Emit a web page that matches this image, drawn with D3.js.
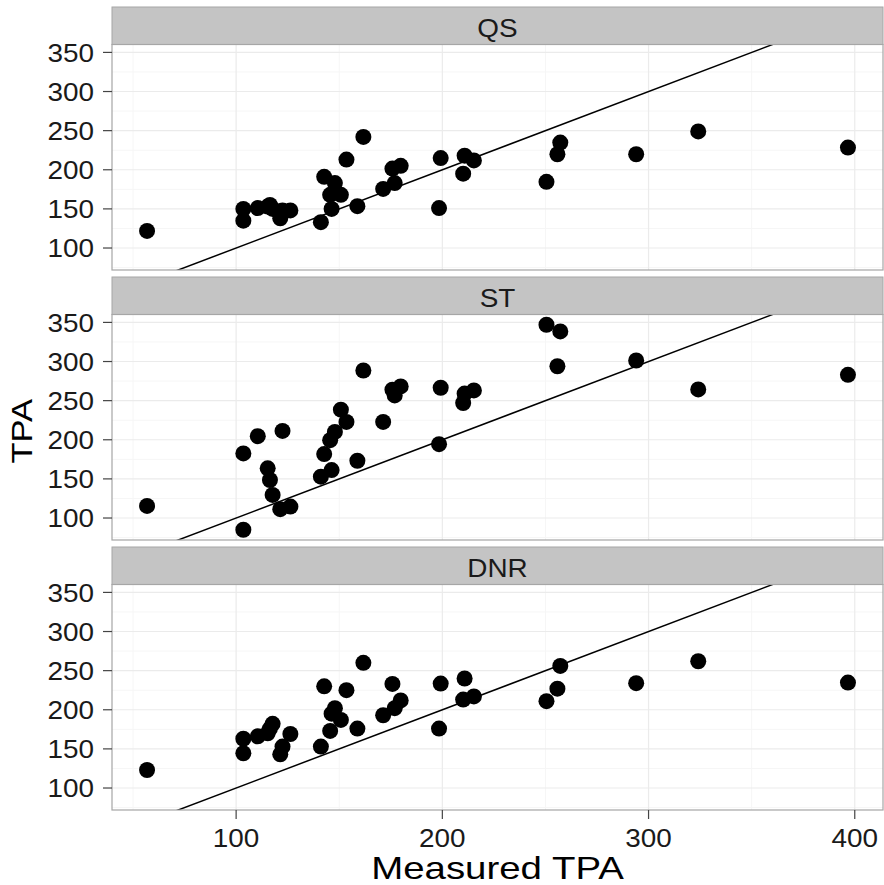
<!DOCTYPE html>
<html>
<head>
<meta charset="utf-8">
<script src="https://cdn.jsdelivr.net/npm/d3@7"></script>
<style>
  html, body { margin: 0; padding: 0; background: #fff; }
  svg { display: block; font-family: "Liberation Sans", Arial, Helvetica, sans-serif; }
</style>
</head>
<body>
<svg id="chart" width="884" height="885"></svg>
<script>
// ---- data ----
const facets = ["QS", "ST", "DNR"];
const measured = [56.8, 103.5, 103.5, 110.5, 115.3, 116.4, 117.7, 121.4, 122.5, 126.3,
  141.1, 142.7, 145.6, 146.3, 147.9, 150.8, 153.5, 158.8, 161.7, 171.3,
  175.8, 176.9, 179.8, 198.4, 199.2, 210.1, 210.8, 215.3, 250.5, 255.8,
  257.2, 294, 324.1, 396.7];
const qsTPA = [121.9, 150, 135, 151, 153, 155, 150, 138, 148, 148,
  133, 191, 168, 150, 183, 168, 213, 153.5, 242, 175.5,
  201.5, 183, 205, 151, 215, 195, 218, 212, 184.6, 219.8,
  234.7, 219.8, 249, 228.4];
const stTPA = [115.5, 182.6, 85, 204.6, 163.5, 148.6, 129.5, 111.3, 211.3, 114.6,
  152.8, 181.7, 199.5, 161.3, 210, 238.5, 222.8, 173.2, 288.5, 222.8,
  264, 256.7, 268.2, 194.4, 266.5, 247, 259, 263.1, 347, 294,
  338.5, 301.3, 264.4, 283];
const dnrTPA = [123, 163, 144.4, 166, 170, 176, 182, 143, 153, 169,
  153, 230, 173, 195, 202, 187, 225, 176, 260, 193,
  233, 202, 212, 176, 233.5, 213, 240, 217, 211, 227,
  256, 234, 262, 234.7];
const xTicks = [100, 200, 300, 400];
const xMinor = [50, 150, 250, 350];
const yTicks = [100, 150, 200, 250, 300, 350];
const yMinor = [75, 125, 175, 225, 275, 325];
const xTitle = "Measured TPA";
const yTitle = "TPA";

const seriesByFacet = { QS: qsTPA, ST: stTPA, DNR: dnrTPA };

// ---- layout ----
const panelLeft = 112, panelRight = 883;
const topMargin = 7, stripH = 37.5, panelH = 225.5, gap = 7;
const panelW = panelRight - panelLeft;

const svg = d3.select("#chart");

function expand(ext, f) {
  const d = ext[1] - ext[0];
  return [ext[0] - d * f, ext[1] + d * f];
}
const allY = qsTPA.concat(stTPA, dnrTPA);
const x = d3.scaleLinear().domain(expand(d3.extent(measured), 0.05)).range([0, panelW]);
const y = d3.scaleLinear().domain(expand(d3.extent(allY), 0.05)).range([panelH, 0]);

function stretch(sel, factor) {
  sel.each(function () {
    const len = this.getComputedTextLength();
    d3.select(this).attr("textLength", len * factor).attr("lengthAdjust", "spacingAndGlyphs");
  });
}

const borderCol = "#a6a6a6";

facets.forEach((name, i) => {
  const stripTop = topMargin + i * (stripH + panelH + gap);
  const panelTop = stripTop + stripH;
  const vals = seriesByFacet[name];
  const pts = measured.map((m, k) => ({ x: m, y: vals[k] }));

  // strip
  svg.append("rect")
    .attr("x", panelLeft).attr("y", stripTop)
    .attr("width", panelW).attr("height", stripH)
    .attr("fill", "#c4c4c4").attr("stroke", borderCol).attr("stroke-width", 1);
  const st = svg.append("text")
    .attr("x", panelLeft + panelW / 2).attr("y", stripTop + 29.5)
    .attr("text-anchor", "middle").attr("font-size", 25.6).attr("fill", "#1a1a1a")
    .text(name);
  stretch(st, 1.09);

  const g = svg.append("g").attr("transform", `translate(${panelLeft},${panelTop})`);
  const clipId = "clip" + i;
  g.append("clipPath").attr("id", clipId)
    .append("rect").attr("width", panelW).attr("height", panelH);

  g.append("rect").attr("width", panelW).attr("height", panelH).attr("fill", "#fff");

  // minor grid
  g.selectAll(".xmin").data(xMinor).join("line")
    .attr("x1", d => x(d)).attr("x2", d => x(d)).attr("y1", 0).attr("y2", panelH)
    .attr("stroke", "#f6f6f6").attr("stroke-width", 1);
  g.selectAll(".ymin").data(yMinor).join("line")
    .attr("y1", d => y(d)).attr("y2", d => y(d)).attr("x1", 0).attr("x2", panelW)
    .attr("stroke", "#f6f6f6").attr("stroke-width", 1);
  // major grid
  g.selectAll(".xmaj").data(xTicks).join("line")
    .attr("x1", d => x(d)).attr("x2", d => x(d)).attr("y1", 0).attr("y2", panelH)
    .attr("stroke", "#ebebeb").attr("stroke-width", 1.2);
  g.selectAll(".ymaj").data(yTicks).join("line")
    .attr("y1", d => y(d)).attr("y2", d => y(d)).attr("x1", 0).attr("x2", panelW)
    .attr("stroke", "#ebebeb").attr("stroke-width", 1.2);

  // identity line y = x
  const dx = x.domain(), dy = y.domain();
  const lo = Math.min(dx[0], dy[0]), hi = Math.max(dx[1], dy[1]);
  g.append("line")
    .attr("clip-path", `url(#${clipId})`)
    .attr("x1", x(lo)).attr("y1", y(lo)).attr("x2", x(hi)).attr("y2", y(hi))
    .attr("stroke", "#000").attr("stroke-width", 1.5);

  // points
  g.append("g").selectAll("circle").data(pts).join("circle")
    .attr("cx", d => x(d.x)).attr("cy", d => y(d.y)).attr("r", 8)
    .attr("fill", "#000");

  // border
  g.append("rect").attr("width", panelW).attr("height", panelH)
    .attr("fill", "none").attr("stroke", borderCol).attr("stroke-width", 1.2);

  // y axis ticks + labels
  g.selectAll(".yt").data(yTicks).join("line")
    .attr("x1", -9).attr("x2", 0).attr("y1", d => y(d)).attr("y2", d => y(d))
    .attr("stroke", "#444").attr("stroke-width", 1.2);
  const yl = g.selectAll(".yl").data(yTicks).join("text")
    .attr("x", -18).attr("y", d => y(d) + 9.2)
    .attr("text-anchor", "end").attr("font-size", 25.6).attr("fill", "#1a1a1a")
    .text(d => d);
  stretch(yl, 1.09);

  if (i === facets.length - 1) {
    g.selectAll(".xt").data(xTicks).join("line")
      .attr("x1", d => x(d)).attr("x2", d => x(d)).attr("y1", panelH).attr("y2", panelH + 9)
      .attr("stroke", "#444").attr("stroke-width", 1.2);
    const xl = g.selectAll(".xl").data(xTicks).join("text")
      .attr("x", d => x(d)).attr("y", panelH + 36.5)
      .attr("text-anchor", "middle").attr("font-size", 25.6).attr("fill", "#1a1a1a")
      .text(d => d);
    stretch(xl, 1.09);
  }
});

// axis titles
const xt = svg.append("text")
  .attr("x", panelLeft + panelW / 2).attr("y", 878.5)
  .attr("text-anchor", "middle").attr("font-size", 32).attr("fill", "#000")
  .text(xTitle);
stretch(xt, 1.2);

const firstPanelTop = topMargin + stripH;
const lastPanelBottom = topMargin + 3 * (stripH + panelH) + 2 * gap;
const yt = svg.append("text")
  .attr("transform", `translate(32,${(firstPanelTop + lastPanelBottom) / 2 + 4}) rotate(-90)`)
  .attr("text-anchor", "middle").attr("font-size", 30).attr("fill", "#000")
  .text(yTitle);
stretch(yt, 1.15);
</script>
</body>
</html>
